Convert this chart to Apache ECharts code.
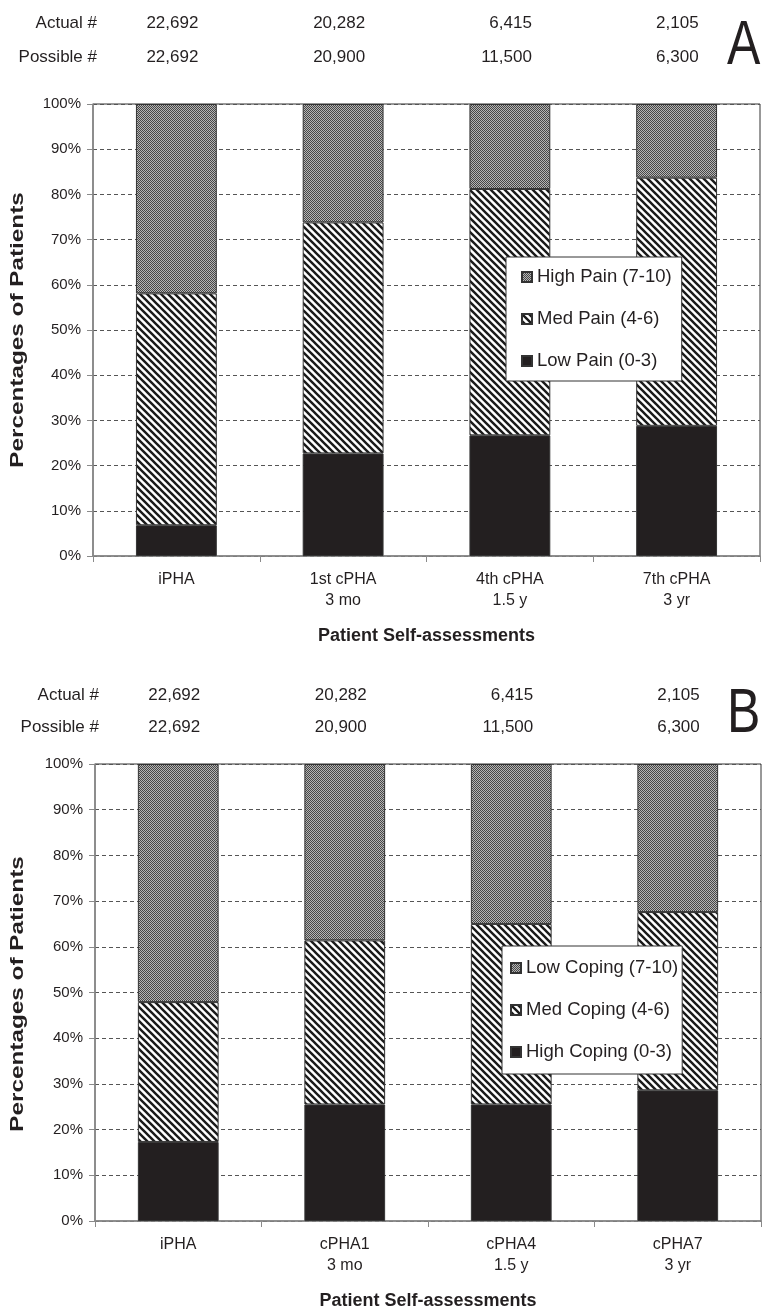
<!DOCTYPE html>
<html>
<head>
<meta charset="utf-8">
<script src="https://cdn.jsdelivr.net/npm/echarts@6/dist/echarts.min.js"></script>
<style>
  html, body { margin: 0; padding: 0; background: #fff; }
  #chart { width: 764px; height: 1311px; }
</style>
</head>
<body>
<div id="chart"></div>
<script>
// Panel A: pain scores
const categoriesA = ['iPHA', '1st cPHA\n3 mo', '4th cPHA\n1.5 y', '7th cPHA\n3 yr'];
const lowPain = [6.8, 22.7, 26.7, 28.8];
const medPain = [51.3, 51.1, 54.5, 54.9];
const highPain = [41.9, 26.2, 18.8, 16.3];

// Panel B: coping scores
const categoriesB = ['iPHA', 'cPHA1\n3 mo', 'cPHA4\n1.5 y', 'cPHA7\n3 yr'];
const highCoping = [17.3, 25.5, 25.5, 28.6];
const medCoping = [30.6, 35.9, 39.5, 39.0];
const lowCoping = [52.1, 38.6, 35.0, 32.4];

// Counts shown above each panel
const actualCounts = ['22,692', '20,282', '6,415', '2,105'];
const possibleCounts = ['22,692', '20,900', '11,500', '6,300'];

const FONT = '"Liberation Sans", Arial, Helvetica, sans-serif';
const TEXT = '#231f20';

// Fill textures
function dotTexture() {
  const c = document.createElement('canvas');
  c.width = 4; c.height = 4;
  const g = c.getContext('2d');
  g.fillStyle = '#b5b5b5';
  g.fillRect(0, 0, 4, 4);
  g.fillStyle = '#474747';
  for (let y = 0; y < 4; y++) {
    for (let x = 0; x < 4; x++) {
      if ((x + y) % 2 === 0) g.fillRect(x, y, 1, 1);
    }
  }
  return c;
}
function stripeTexture() {
  const s = 7;
  const c = document.createElement('canvas');
  c.width = s; c.height = s;
  const g = c.getContext('2d');
  g.fillStyle = '#ffffff';
  g.fillRect(0, 0, s, s);
  g.strokeStyle = '#1a1a1a';
  g.lineWidth = 2.4;
  for (let k = -1; k <= 1; k++) {
    g.beginPath();
    g.moveTo(-1, k * s - 1);
    g.lineTo(s + 1, k * s + s + 1);
    g.stroke();
  }
  return c;
}
const dotFill = { image: dotTexture(), repeat: 'repeat' };
const stripeFill = { image: stripeTexture(), repeat: 'repeat' };
const solidFill = '#231f20';

const grids = [
  { left: 93, top: 104, width: 667, height: 452 },
  { left: 95, top: 764, width: 666, height: 460 }
];

function mainXAxis(gi, cats) {
  return {
    type: 'category', gridIndex: gi, data: cats, position: 'bottom',
    axisLine: { lineStyle: { color: '#8a8a8a', width: 1.5 } },
    axisTick: { show: true, length: 6, lineStyle: { color: '#8a8a8a' } },
    axisLabel: { color: TEXT, fontSize: 16, fontFamily: FONT, margin: 13, lineHeight: 21 },
    name: 'Patient Self-assessments', nameLocation: 'middle', nameGap: 71,
    nameTextStyle: { color: TEXT, fontSize: 18, fontWeight: 'bold', fontFamily: FONT }
  };
}
function countAxis(gi, cats, values, label, offset) {
  return {
    type: 'category', gridIndex: gi, data: cats, position: 'top', offset: offset,
    axisLine: { show: false }, axisTick: { show: false }, splitLine: { show: false },
    axisLabel: {
      color: TEXT, fontSize: 17, fontFamily: FONT, margin: 0,
      align: 'right', padding: [0, -22, 0, 0],
      formatter: (v, i) => values[i]
    },
    name: label, nameLocation: 'start', nameGap: -4,
    nameTextStyle: { color: TEXT, fontSize: 17, fontFamily: FONT, align: 'right', verticalAlign: 'bottom' }
  };
}
function yAxis(gi) {
  return {
    type: 'value', gridIndex: gi, min: 0, max: 100, interval: 10,
    axisLine: { show: true, lineStyle: { color: '#8a8a8a', width: 1.5 } },
    axisTick: { show: true, length: 6, lineStyle: { color: '#8a8a8a' } },
    axisLabel: { color: TEXT, fontSize: 15, fontFamily: FONT, margin: 12, formatter: '{value}%' },
    splitLine: { show: true, lineStyle: { color: '#555', type: [4, 3], width: 1 } }
  };
}
function yTitle(g) {
  return {
    type: 'text', x: 18, y: g.top + g.height / 2, rotation: Math.PI / 2, scaleX: 1.35,
    style: {
      text: 'Percentages of Patients', fontSize: 18, fontWeight: 'bold', fontFamily: FONT,
      fill: TEXT, align: 'center', verticalAlign: 'middle'
    }
  };
}
function bar(name, gi, data, fill, stack) {
  return {
    name: name, type: 'bar', stack: stack, xAxisIndex: gi, yAxisIndex: gi,
    data: data, barWidth: '48.5%',
    itemStyle: { color: fill, borderColor: '#333', borderWidth: 1 },
    emphasis: { disabled: true }, animation: false
  };
}
function legend(names, left, top, pad) {
  return {
    data: names, orient: 'vertical', left: left, top: top,
    icon: 'rect', itemWidth: 10, itemHeight: 10, itemGap: 22,
    padding: pad,
    backgroundColor: '#fff', borderColor: '#333', borderWidth: 1,
    textStyle: { color: TEXT, fontSize: 18.5, fontFamily: FONT, lineHeight: 20 },
    selectedMode: false
  };
}

const option = {
  animation: false,
  backgroundColor: '#ffffff',
  grid: grids.map(g => Object.assign({ show: true, borderColor: '#333', borderWidth: 1, backgroundColor: 'transparent' }, g)),
  xAxis: [
    mainXAxis(0, categoriesA),
    mainXAxis(1, categoriesB),
    countAxis(0, categoriesA, actualCounts, 'Actual #', 72),
    countAxis(0, categoriesA, possibleCounts, 'Possible #', 38),
    countAxis(1, categoriesB, actualCounts, 'Actual #', 60),
    countAxis(1, categoriesB, possibleCounts, 'Possible #', 28)
  ],
  yAxis: [yAxis(0), yAxis(1)],
  legend: [
    legend(['High Pain (7-10)', 'Med Pain (4-6)', 'Low Pain (0-3)'], 506, 257, [10, 10, 10, 15]),
    legend(['Low Coping (7-10)', 'Med Coping (4-6)', 'High Coping (0-3)'], 502, 946, [12, 4, 12, 8])
  ],
  graphic: [
    yTitle(grids[0]),
    yTitle(grids[1]),
    { type: 'text', x: 727, y: 16, scaleY: 1.25, style: { text: 'A', fontSize: 50, fontFamily: FONT, fill: TEXT } },
    { type: 'text', x: 727, y: 684, scaleY: 1.25, style: { text: 'B', fontSize: 50, fontFamily: FONT, fill: TEXT } }
  ],
  series: [
    bar('Low Pain (0-3)', 0, lowPain, solidFill, 'a'),
    bar('Med Pain (4-6)', 0, medPain, stripeFill, 'a'),
    bar('High Pain (7-10)', 0, highPain, dotFill, 'a'),
    bar('High Coping (0-3)', 1, highCoping, solidFill, 'b'),
    bar('Med Coping (4-6)', 1, medCoping, stripeFill, 'b'),
    bar('Low Coping (7-10)', 1, lowCoping, dotFill, 'b')
  ]
};

const chart = echarts.init(document.getElementById('chart'), null, { renderer: 'canvas' });
chart.setOption(option);
</script>
</body>
</html>
